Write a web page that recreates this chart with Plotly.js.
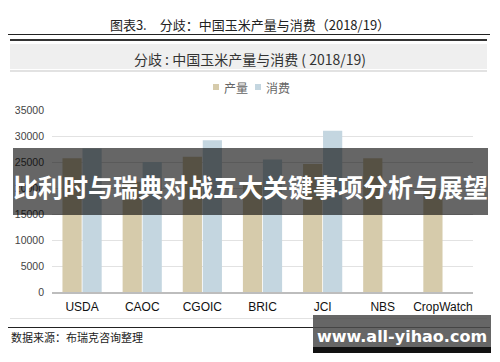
<!DOCTYPE html>
<html>
<head>
<meta charset="utf-8">
<script src="https://cdn.plot.ly/plotly-3.0.1.min.js"></script>
<style>
  html, body { margin: 0; padding: 0; background: #fff; }
  #wrap { position: relative; width: 500px; height: 362px; overflow: hidden; font-family: "Noto Sans CJK SC", "Liberation Sans", sans-serif; }
  #chart { position: absolute; left: 0; top: 0; width: 500px; height: 362px; }
  .abs { position: absolute; }
  #fig-title { left: 0; width: 500px; top: 16px; text-align: center; font-size: 13px; color: #222; line-height: 18px; white-space: pre; }
  #line1 { left: 8px; width: 482px; top: 34px; height: 1px; background: #222; }
  #line2 { left: 10px; width: 477px; top: 39px; height: 2px; background: #333; }
  #band { left: 10px; width: 477px; top: 44px; height: 25px; background: #efefef; }
  #band-title { left: 0; width: 500px; top: 49px; text-align: center; font-size: 14px; color: #333; line-height: 20px; white-space: pre; }
  #line3 { left: 10px; width: 477px; top: 70px; height: 2px; background: #e2e2e2; }
  #line4 { left: 10px; width: 477px; top: 318px; height: 1px; background: #e2e2e2; }
  #line5 { left: 8px; width: 482px; top: 327px; height: 1px; background: #222; }
  #source { left: 11px; top: 329px; font-size: 11px; color: #222; line-height: 16px; }
  #banner { left: 13px; width: 475px; top: 148px; height: 67px; background: rgba(0,0,0,0.6); }
  #banner-text { left: 13px; width: 475px; top: 167px; text-align: center; font-size: 25px; font-weight: bold; color: #fff; line-height: 38px; white-space: nowrap; }
  #wm { left: 313px; width: 178px; top: 315px; height: 32px; background: rgba(75,75,75,0.85); }
  #wm-strip { left: 313px; width: 178px; top: 347px; height: 6px; background: #111; }
  #wm-text { left: 313px; width: 178px; top: 326px; text-align: center; font-family: "DejaVu Sans", "Liberation Sans", sans-serif; font-size: 16px; font-weight: bold; color: #fff; line-height: 22px; white-space: nowrap; }
</style>
</head>
<body>
<div id="wrap">
  <div id="chart"></div>
  <div class="abs" id="fig-title">图表3.&#8194;&#8194;分歧：中国玉米产量与消费（2018/19）</div>
  <div class="abs" id="line1"></div>
  <div class="abs" id="line2"></div>
  <div class="abs" id="band"></div>
  <div class="abs" id="band-title">分歧 : 中国玉米产量与消费 ( 2018/19)</div>
  <div class="abs" id="line3"></div>
  <div class="abs" id="line4"></div>
  <div class="abs" id="line5"></div>
  <div class="abs" id="source">数据来源：布瑞克咨询整理</div>
  <div class="abs" id="banner"></div>
  <div class="abs" id="banner-text">比利时与瑞典对战五大关键事项分析与展望</div>
  <div class="abs" id="wm"></div>
  <div class="abs" id="wm-strip"></div>
  <div class="abs" id="wm-text">www.all-yihao.com</div>
</div>
<script>
// Data (万吨)
var categories = ["USDA", "CAOC", "CGOIC", "BRIC", "JCI", "NBS", "CropWatch"];
var production = [25700, 21200, 26000, 21000, 24600, 25700, 19600];
var consumption = [27600, 25000, 29200, 25500, 31000, null, null];
var seriesNames = ["产量", "消费"];
var seriesColors = ["#d6cbab", "#c4d6e0"];
var yTicks = [0, 5000, 10000, 15000, 20000, 25000, 30000, 35000];

var traces = [
  { type: "bar", name: seriesNames[0], x: categories, y: production,
    marker: { color: seriesColors[0] }, hoverinfo: "x+y+name", showlegend: false },
  { type: "bar", name: seriesNames[1], x: categories, y: consumption,
    marker: { color: seriesColors[1] }, hoverinfo: "x+y+name", showlegend: false }
];

// compact legend drawn with paper-referenced shapes/annotations
var plotL = 52, plotW = 421, plotB = 292, plotH = 182;
function px(x) { return (x - plotL) / plotW; }
function py(y) { return (plotB - y) / plotH; }
var legendStarts = [213, 255];
var shapes = [], annotations = [];
seriesNames.forEach(function (n, i) {
  var x0 = legendStarts[i];
  shapes.push({ type: "rect", xref: "paper", yref: "paper",
    x0: px(x0), x1: px(x0 + 6), y0: py(90), y1: py(84),
    fillcolor: seriesColors[i], line: { width: 0 } });
  annotations.push({ xref: "paper", yref: "paper", x: px(x0 + 9), y: py(87),
    xanchor: "left", yanchor: "middle", showarrow: false, text: n,
    font: { family: "Noto Sans CJK SC, sans-serif", size: 12, color: "#666" } });
});

var layout = {
  width: 500, height: 362,
  margin: { l: plotL, r: 500 - plotL - plotW, t: plotB - plotH, b: 362 - plotB, pad: 0 },
  paper_bgcolor: "rgba(0,0,0,0)",
  plot_bgcolor: "rgba(0,0,0,0)",
  barmode: "group",
  bargap: 0.335,
  bargroupgap: 0.04,
  font: { family: "Liberation Sans, Arial, sans-serif", color: "#333" },
  showlegend: false,
  shapes: shapes,
  annotations: annotations,
  xaxis: {
    type: "category",
    showgrid: false,
    showline: true, linecolor: "#bdbdbd", linewidth: 1.5,
    ticks: "",
    tickfont: { family: "Liberation Sans, Arial, sans-serif", size: 12, color: "#111" },
    ticklabelstandoff: 3
  },
  yaxis: {
    range: [0, 35000],
    tickmode: "array", tickvals: yTicks, ticktext: yTicks.map(String),
    showgrid: true, gridcolor: "#e2e2e2", gridwidth: 1,
    zeroline: false, showline: false, ticks: "",
    tickfont: { family: "Liberation Sans, Arial, sans-serif", size: 10.5, color: "#444" },
    ticklabelstandoff: 7
  }
};

Plotly.newPlot("chart", traces, layout, { displayModeBar: false, staticPlot: true });
</script>
</body>
</html>
